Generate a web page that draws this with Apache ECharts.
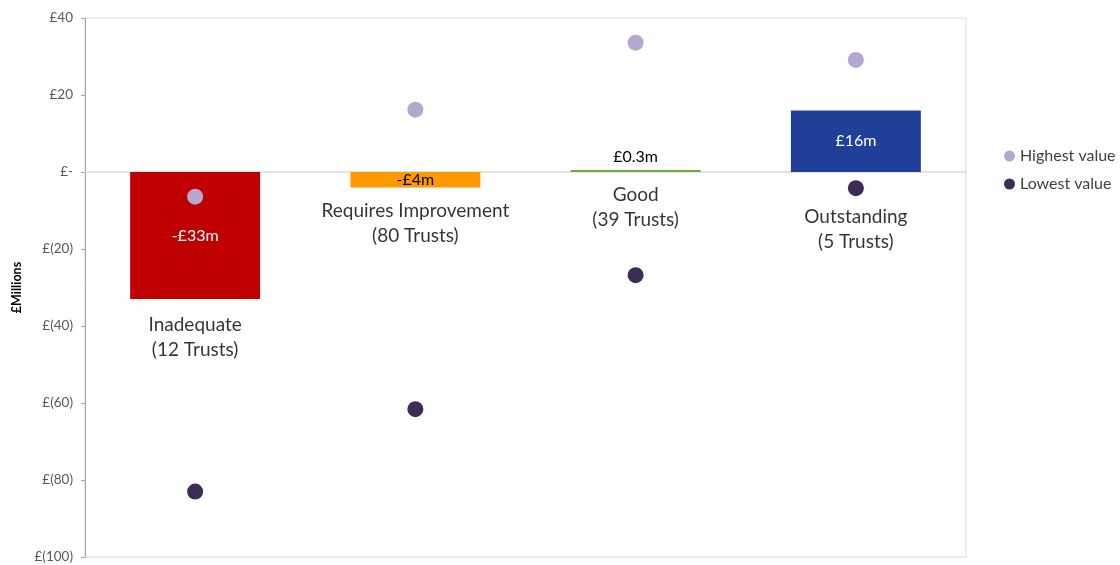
<!DOCTYPE html>
<html>
<head>
<meta charset="utf-8">
<title>Trust financial position by rating</title>
<script src="https://cdn.jsdelivr.net/npm/echarts@6/dist/echarts.min.js"></script>
<style>
  html, body { margin: 0; padding: 0; background: #ffffff; }
  #chart { width: 1120px; height: 565px; }
</style>
</head>
<body>
<div id="chart"></div>
<script>
// Ratings and number of trusts in each
const categories = ['Inadequate', 'Requires Improvement', 'Good', 'Outstanding'];
const trustCounts = [12, 80, 39, 5];
// Average net position per rating (£m)
const netPosition = [-33, -4, 0.3, 16];
// Highest and lowest individual trust values (£m)
const highestValues = [-6.4, 16.2, 33.6, 29.1];
const lowestValues = [-83.0, -61.6, -26.8, -4.2];
// Y axis ticks (£m)
const yTicks = [40, 20, 0, -20, -40, -60, -80, -100];

const barColors = ['#C00000', '#FF9900', '#70AD47', '#203F99'];
const font = 'Lato, "Open Sans", sans-serif';

function money(v) {
  if (v === 0) return '£-';
  return v > 0 ? '£' + v : '£(' + (-v) + ')';
}

const chart = echarts.init(document.getElementById('chart'), null, { renderer: 'canvas' });

const barData = netPosition.map((v, i) => {
  const inside = Math.abs(v) >= 1;
  return {
    value: v,
    itemStyle: { color: barColors[i] },
    label: {
      show: true,
      position: inside ? 'inside' : 'top',
      distance: 5,
      color: (i === 1 || !inside) ? '#000000' : '#ffffff',
      fontSize: 16,
      fontFamily: font,
      formatter: () => (v < 0 ? '-£' + Math.abs(v) : '£' + v) + 'm'
    }
  };
});

// Category captions sit just below the bar end (or below zero for positive bars)
const captionDistance = [13, 11, 10, 32];
const captionData = categories.map((c, i) => ({
  value: [i, Math.min(netPosition[i], 0)],
  label: { distance: captionDistance[i] }
}));

chart.setOption({
  animation: false,
  textStyle: { fontFamily: font },
  grid: {
    left: 85, right: 154, top: 18, bottom: 8,
    show: true, borderColor: '#D9D9D9', borderWidth: 1
  },
  legend: {
    data: ['Highest value', 'Lowest value'],
    orient: 'vertical',
    left: 999, top: 143,
    itemWidth: 11, itemHeight: 11, itemGap: 12,
    icon: 'circle',
    textStyle: { fontSize: 16, color: '#404040', fontFamily: font }
  },
  xAxis: {
    type: 'category',
    data: categories,
    axisLine: { onZero: true, lineStyle: { color: '#D9D9D9', width: 1.5 } },
    axisTick: { show: false },
    axisLabel: { show: false },
    splitLine: { show: false }
  },
  yAxis: {
    type: 'value',
    min: yTicks[yTicks.length - 1],
    max: yTicks[0],
    interval: 20,
    name: '£Millions',
    nameLocation: 'middle',
    nameGap: 58,
    nameRotate: 90,
    nameTextStyle: { fontSize: 12.5, fontWeight: 'bold', color: '#000000', fontFamily: font },
    axisLine: { show: true, lineStyle: { color: '#A6A6A6' } },
    axisTick: { show: true, length: 4, lineStyle: { color: '#A6A6A6' } },
    axisLabel: { formatter: money, fontSize: 13.5, color: '#595959', margin: 12, fontFamily: font },
    splitLine: { show: false }
  },
  series: [
    {
      name: 'Net position',
      type: 'bar',
      data: barData,
      barWidth: '59%',
      barMinHeight: 2,
      z: 2
    },
    {
      name: 'Category captions',
      type: 'scatter',
      data: captionData,
      symbolSize: 0,
      silent: true,
      label: {
        show: true,
        position: 'bottom',
        fontSize: 19,
        lineHeight: 25,
        color: '#000000',
        fontFamily: font,
        align: 'center',
        formatter: (p) => categories[p.dataIndex] + '\n(' + trustCounts[p.dataIndex] + ' Trusts)'
      },
      z: 3
    },
    {
      name: 'Highest value',
      type: 'scatter',
      data: highestValues,
      symbolSize: 16,
      itemStyle: { color: '#B4A7D0', opacity: 1 },
      z: 4
    },
    {
      name: 'Lowest value',
      type: 'scatter',
      data: lowestValues,
      symbolSize: 16,
      itemStyle: { color: '#3D2C55', opacity: 1 },
      z: 4
    }
  ]
});
</script>
</body>
</html>
